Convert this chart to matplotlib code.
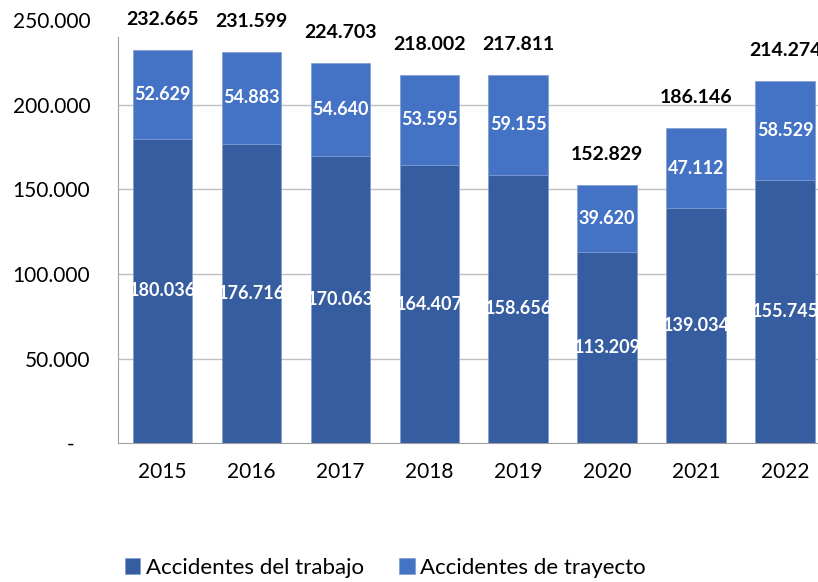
import numpy as np
import matplotlib.pyplot as plt

years = ["2015", "2016", "2017", "2018", "2019", "2020", "2021", "2022"]
trabajo = [180036, 176716, 170063, 164407, 158656, 113209, 139034, 155745]
trayecto = [52629, 54883, 54640, 53595, 59155, 39620, 47112, 58529]
y_ticks = [0, 50000, 100000, 150000, 200000, 250000]


def fmt(v):
    return f"{v:,}".replace(",", ".")


plt.rcParams["font.family"] = ["Lato", "DejaVu Sans"]

dark = "#365D9F"
light = "#4472C4"

fig = plt.figure(figsize=(8.18, 5.82), dpi=100)
ax = fig.add_axes([0.1443, 0.2388, 0.8557, 0.726])

x = np.arange(len(years))
w = 0.67
totals = [a + b for a, b in zip(trabajo, trayecto)]

b1 = ax.bar(x, trabajo, w, color=dark, edgecolor="#7f9bd0", linewidth=0.5,
            label="Accidentes del trabajo", zorder=3)
b2 = ax.bar(x, trayecto, w, bottom=trabajo, color=light, edgecolor="#7f9bd0",
            linewidth=0.5, label="Accidentes de trayecto", zorder=3)

for i in range(len(years)):
    ax.text(x[i], trabajo[i] / 2, fmt(trabajo[i]), ha="center", va="center",
            color="white", fontweight="bold", fontsize=13, zorder=4)
    ax.text(x[i], trabajo[i] + trayecto[i] / 2, fmt(trayecto[i]), ha="center",
            va="center", color="white", fontweight="bold", fontsize=13, zorder=4)
    ax.annotate(fmt(totals[i]), (x[i], totals[i]), xytext=(0, 22),
                textcoords="offset points", ha="center", va="center",
                fontweight="bold", fontsize=14, color="black")

for g in y_ticks[1:-1]:
    ax.axhline(g, color="#bfbfbf", linewidth=1, zorder=1)

ax.set_ylim(0, 250000)
ax.set_xlim(-0.5, 7.37)
ax.set_yticks(y_ticks)
ax.set_yticklabels(["-   "] + [fmt(t) for t in y_ticks[1:]])
ax.set_xticks(x)
ax.set_xticklabels(years)
ax.tick_params(axis="both", length=0, labelsize=15, colors="black")
ax.tick_params(axis="y", pad=20)
ax.tick_params(axis="x", pad=14)

for s in ["top", "right"]:
    ax.spines[s].set_visible(False)
ax.spines["left"].set_color("#a0a0a0")
ax.spines["bottom"].set_color("#a0a0a0")
ax.spines["left"].set_bounds(0, 240500)

fig.legend(handles=[b1, b2], loc="center left", bbox_to_anchor=(0.128, 0.024),
           ncol=2, frameon=False, fontsize=16, handlelength=0.7,
           handleheight=0.7, handletextpad=0.25, columnspacing=1.6)

fig.savefig("out.png", dpi=100)
